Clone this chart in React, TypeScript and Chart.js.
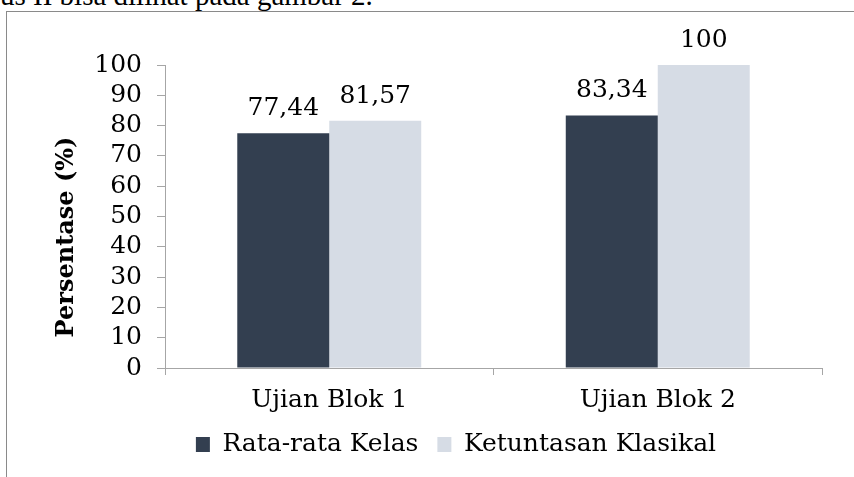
import React, { useEffect, useRef } from "react";
import { Chart, registerables } from "chart.js";

Chart.register(...registerables);

const categories = ["Ujian Blok 1", "Ujian Blok 2"];
const seriesNames = ["Rata-rata Kelas", "Ketuntasan Klasikal"];
const rataRataKelas = [77.44, 83.34];
const ketuntasanKlasikal = [81.57, 100];
const seriesColors = ["#333F50", "#D6DCE5"];
const yTitle = "Persentase (%)";
const headerText = "us II bisa dilihat pada gambar 2.";

const FONT = "'DejaVu Serif', serif";

const valueLabels = {
  id: "valueLabels",
  afterDatasetsDraw(chart: any) {
    const ctx = chart.ctx;
    ctx.save();
    ctx.font = `25px ${FONT}`;
    ctx.fillStyle = "#000";
    ctx.textAlign = "center";
    ctx.textBaseline = "alphabetic";
    chart.data.datasets.forEach((ds: any, i: number) => {
      const meta = chart.getDatasetMeta(i);
      meta.data.forEach((bar: any, j: number) => {
        const v = ds.data[j];
        ctx.fillText(String(v).replace(".", ","), bar.x, bar.y - 18);
      });
    });
    ctx.restore();
  },
};

const yTitlePlugin = {
  id: "yTitlePlugin",
  afterDraw(chart: any) {
    const ctx = chart.ctx;
    const a = chart.chartArea;
    ctx.save();
    ctx.translate(a.left - 98, a.top + 172);
    ctx.rotate(-Math.PI / 2);
    ctx.font = `bold 24px ${FONT}`;
    ctx.fillStyle = "#000";
    ctx.textAlign = "center";
    ctx.textBaseline = "middle";
    ctx.fillText(yTitle, 0, 0);
    ctx.restore();
  },
};

export default function App() {
  const ref = useRef<HTMLCanvasElement | null>(null);
  useEffect(() => {
    if (!ref.current) return;
    const chart = new Chart(ref.current, {
      type: "bar",
      data: {
        labels: categories,
        datasets: [
          { label: seriesNames[0], data: rataRataKelas, backgroundColor: seriesColors[0] },
          { label: seriesNames[1], data: ketuntasanKlasikal, backgroundColor: seriesColors[1] },
        ],
      },
      options: {
        responsive: false,
        animation: false,
        layout: { padding: { left: 83, right: 32, top: 53, bottom: 10 } },
        datasets: { bar: { barPercentage: 1, categoryPercentage: 0.56 } } as any,
        scales: {
          x: {
            afterFit: (s: any) => { s.height = 45; },
            grid: { display: true, drawOnChartArea: false, drawTicks: true, tickLength: 7, color: "#A6A6A6", offset: true },
            border: { display: true, color: "#A6A6A6" },
            ticks: { color: "#000", font: { family: FONT, size: 25 }, padding: 10 },
          },
          y: {
            min: 0,
            max: 100,
            afterFit: (s: any) => { s.width = 75; },
            grid: { display: true, drawOnChartArea: false, drawTicks: true, tickLength: 8, color: "#A6A6A6" },
            border: { display: true, color: "#A6A6A6" },
            ticks: { stepSize: 10, autoSkip: false, color: "#000", font: { family: FONT, size: 25 }, padding: 15 },
          },
        },
        plugins: {
          legend: {
            position: "bottom",
            labels: { boxWidth: 14, boxHeight: 15, padding: 19, color: "#000", font: { family: FONT, size: 25 } },
          },
          tooltip: { enabled: false },
        },
      },
      plugins: [valueLabels, yTitlePlugin],
    });
    return () => chart.destroy();
  }, []);

  return (
    <div style={{ position: "fixed", left: 0, top: 0, width: 854, height: 477, overflow: "hidden", background: "#fff" }}>
      <div
        style={{
          position: "absolute",
          left: 0,
          top: -19,
          fontFamily: "'Liberation Serif', serif",
          fontSize: 29,
          lineHeight: "29px",
          whiteSpace: "nowrap",
          color: "#000",
        }}
      >
        {headerText}
      </div>
      <div
        style={{
          position: "absolute",
          left: 6,
          top: 11,
          width: 900,
          height: 500,
          border: "1px solid #8A8A8A",
        }}
      />
      <div style={{ position: "absolute", left: 7, top: 12, width: 847, height: 465 }}>
        <canvas ref={ref} width={847} height={465} style={{ width: 847, height: 465, display: "block" }} />
      </div>
    </div>
  );
}
